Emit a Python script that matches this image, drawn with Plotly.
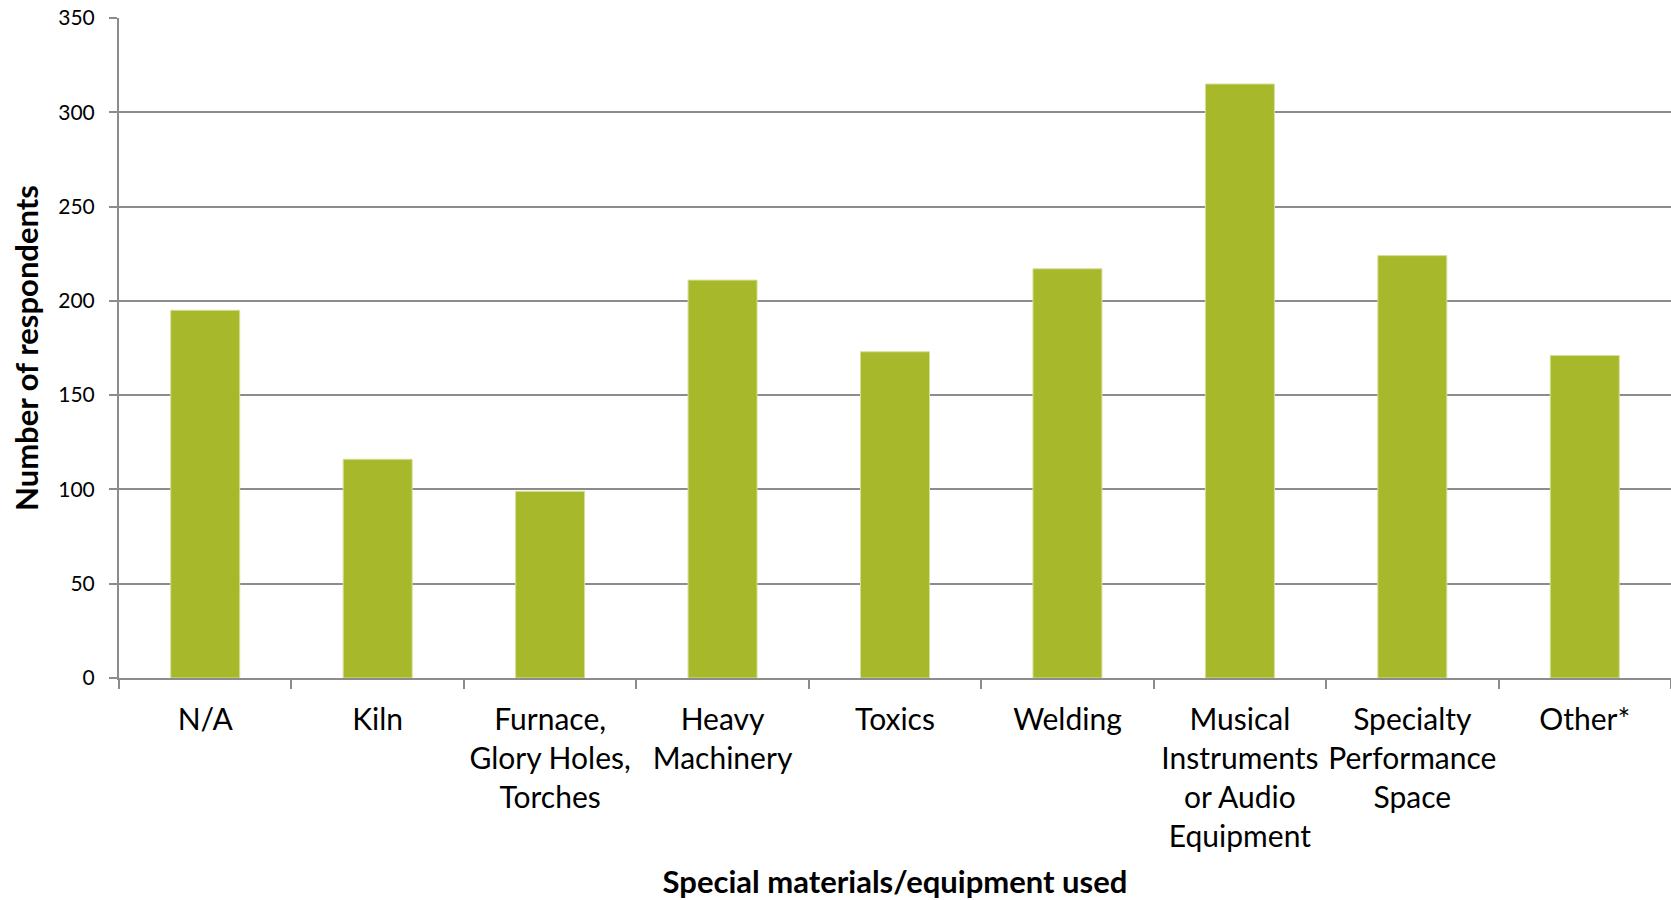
import plotly.graph_objects as go

categories = [
    "N/A",
    "Kiln",
    "Furnace,<br>Glory Holes,<br>Torches",
    "Heavy<br>Machinery",
    "Toxics",
    "Welding",
    "Musical<br>Instruments<br>or Audio<br>Equipment",
    "Specialty<br>Performance<br>Space",
    "Other*",
]
respondents = [195, 116, 99, 211, 173, 217, 315, 224, 171]
y_ticks = [0, 50, 100, 150, 200, 250, 300, 350]

BAR_COLOR = "#A7B82A"
GRID_COLOR = "#8C8C8C"
FONT = "Lato"

fig = go.Figure(
    go.Bar(
        x=categories,
        y=respondents,
        marker=dict(color=BAR_COLOR, line=dict(color="#D6DE9A", width=1)),
    )
)

fig.update_layout(
    width=1671,
    height=900,
    margin=dict(l=119, r=0, t=18, b=222),
    paper_bgcolor="white",
    plot_bgcolor="white",
    bargap=0.6,
    showlegend=False,
    font=dict(family=FONT, color="black"),
)

fig.update_xaxes(
    type="category",
    automargin=False,
    tickangle=0,
    showline=True,
    linecolor=GRID_COLOR,
    linewidth=2,
    ticks="outside",
    tickson="boundaries",
    ticklen=9,
    tickcolor=GRID_COLOR,
    tickwidth=1.5,
    showgrid=False,
    tickfont=dict(family=FONT, size=30, color="black"),
    ticklabelstandoff=14,
    title=dict(
        text="<b>Special materials/equipment used</b>",
        font=dict(family=FONT, size=31, color="black"),
        standoff=24,
    ),
)

fig.update_yaxes(
    range=[0, 350],
    automargin=False,
    tickvals=y_ticks,
    showline=True,
    linecolor=GRID_COLOR,
    linewidth=2,
    ticks="outside",
    ticklen=8,
    tickcolor=GRID_COLOR,
    tickwidth=1.5,
    showgrid=True,
    gridcolor=GRID_COLOR,
    gridwidth=2,
    zeroline=False,
    tickfont=dict(family=FONT, size=21, color="black"),
    ticklabelstandoff=10,
    title=dict(
        text="<b>Number of respondents</b>",
        font=dict(family=FONT, size=31, color="black"),
        standoff=10,
    ),
)

fig.write_html("out.html")
